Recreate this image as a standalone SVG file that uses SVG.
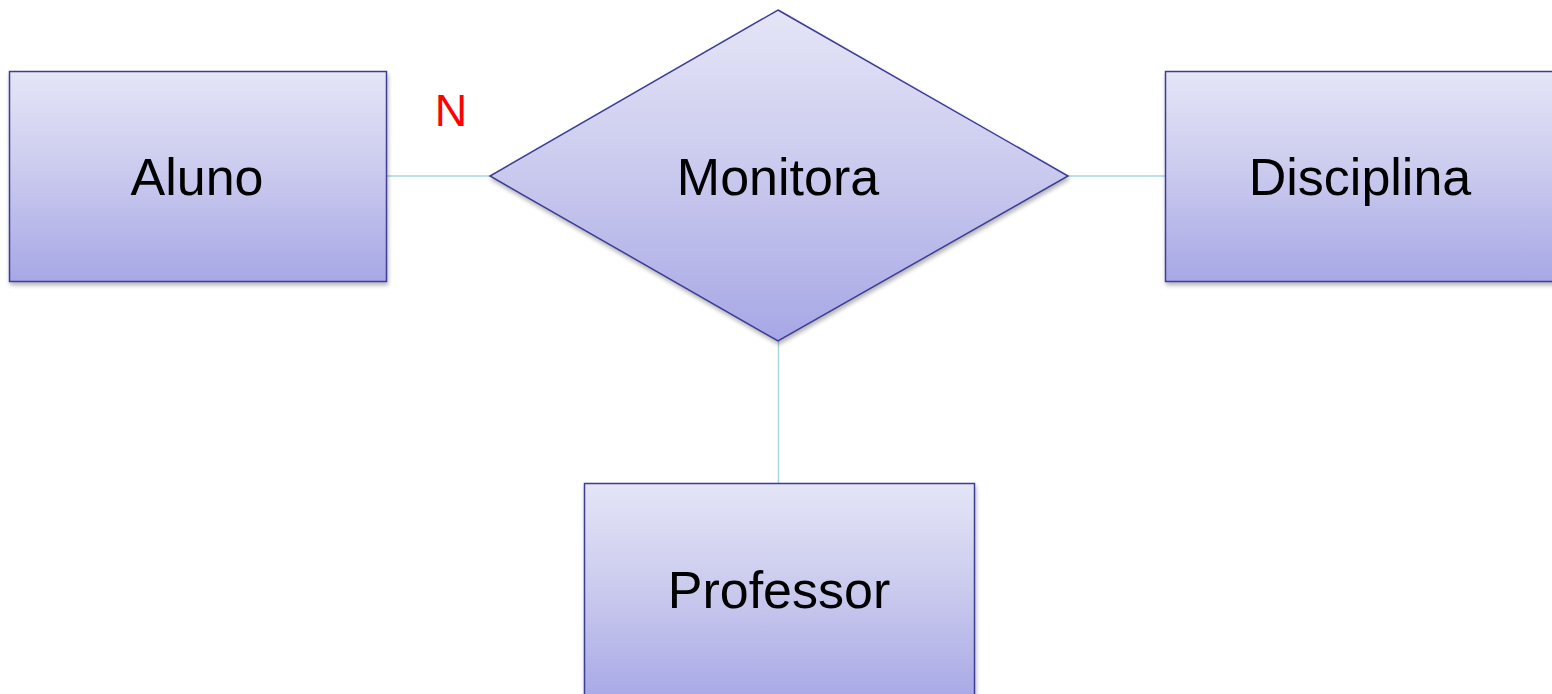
<svg xmlns="http://www.w3.org/2000/svg" width="1552" height="694" viewBox="0 0 1552 694">
  <defs>
    <linearGradient id="g" x1="0" y1="0" x2="0" y2="1">
      <stop offset="0" stop-color="#e5e5f7"/>
      <stop offset="0.5" stop-color="#c9c9ee"/>
      <stop offset="1" stop-color="#a7a7e6"/>
    </linearGradient>
    <filter id="sh" x="-5%" y="-5%" width="110%" height="115%">
      <feGaussianBlur in="SourceAlpha" stdDeviation="2"/>
      <feOffset dx="1" dy="3" result="b"/>
      <feComponentTransfer><feFuncA type="linear" slope="0.3"/></feComponentTransfer>
      <feMerge><feMergeNode/><feMergeNode in="SourceGraphic"/></feMerge>
    </filter>
  </defs>
  <style>
    .shape { fill: url(#g); stroke: #3c3c96; stroke-width: 1.5; filter: url(#sh); }
    .lbl { font-family: "Liberation Sans", Arial, sans-serif; font-size: 52px; fill: #000; text-anchor: middle; }
    .card { font-family: "Liberation Sans", Arial, sans-serif; font-size: 45px; fill: #ff0000; text-anchor: middle; }
    .conn { stroke: #a6d6de; stroke-width: 1.5; fill: none; }
  </style>
  <rect width="1552" height="694" fill="#ffffff"/>
  <g id="connectors">
    <line class="conn" x1="386" y1="176" x2="490" y2="176"/>
    <line class="conn" x1="1068" y1="176" x2="1165" y2="176"/>
    <line class="conn" x1="778.5" y1="341" x2="778.5" y2="483"/>
  </g>
  <g id="aluno">
    <rect class="shape" x="9.5" y="71.5" width="377" height="210"/>
    <text class="lbl" x="197" y="195">Aluno</text>
  </g>
  <g id="monitora">
    <polygon class="shape" points="778,10 1068,176 778,341 490,176"/>
    <text class="lbl" x="778" y="195">Monitora</text>
  </g>
  <g id="disciplina">
    <rect class="shape" x="1165.5" y="71.5" width="390" height="210"/>
    <text class="lbl" x="1360" y="195">Disciplina</text>
  </g>
  <g id="professor">
    <rect class="shape" x="584.5" y="483.5" width="390" height="220"/>
    <text class="lbl" x="779" y="608">Professor</text>
  </g>
  <g id="cardinality">
    <text class="card" x="451" y="126">N</text>
  </g>
</svg>
